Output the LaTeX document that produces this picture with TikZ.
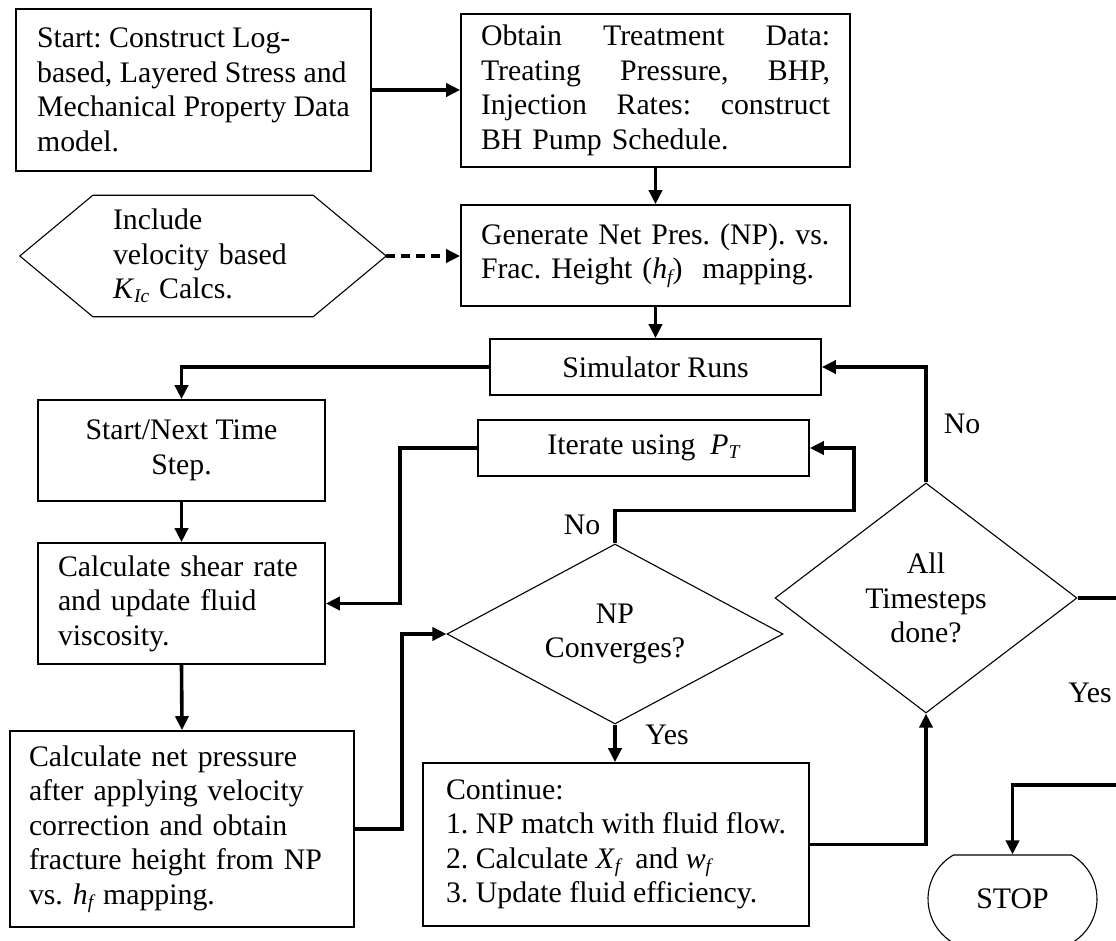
\documentclass[tikz,border=0pt]{standalone}
\usepackage{fontspec}
\setmainfont{Liberation Serif}
\usetikzlibrary{shapes.geometric,shapes.misc,arrows.meta}
\frenchspacing
\newcommand{\subit}[1]{\raisebox{-0.14em}{\fontsize{19.5}{19.5}\selectfont\itshape #1}}

\begin{document}
\begin{tikzpicture}[
    x=1pt, y=-1pt,
    every node/.style={font=\fontsize{29.8}{34.5}\selectfont, inner sep=0pt},
    box/.style={rectangle, draw, line width=1.6pt, align=left},
    cbox/.style={rectangle, draw, line width=1.6pt, align=center},
    decision/.style={diamond, draw, line width=1.1pt, align=center},
    arrow/.style={->, >={Triangle[length=14pt,width=13pt]}, line width=3.6pt},
    dasharrow/.style={arrow, dash pattern=on 9pt off 6pt}
]
    \useasboundingbox (0,0) rectangle (1116,941);
    \clip (0,0) rectangle (1116,941);

    \node[box, minimum width=355pt, minimum height=162pt] (start) at (193.5,90) {Start: Construct Log-\\ based, Layered Stress and\\ Mechanical Property Data\\ model.};
    \node[box, minimum width=389pt, minimum height=153pt, text width=349pt] (obtain) at (655.5,90.5) {Obtain\hfill Treatment\hfill Data:\\ Treating\hfill Pressure,\hfill BHP,\\ Injection\hfill Rates:\hfill construct\\ BH Pump Schedule.};
    \node[box, minimum width=389pt, minimum height=101pt, text width=349pt] (gen) at (655.5,255.5) {Generate Net Pres. (NP). vs.\\ Frac. Height (\textit{h}\subit{f})~\ mapping.};
    \node[minimum width=366pt, minimum height=121pt, text width=180pt, align=left] (kic) at (203,256) {Include\\ velocity based\\ \textit{K}\subit{Ic} Calcs.};
    \draw[line width=1.1pt] (kic.west) -- ([xshift=73pt]kic.north west) -- ([xshift=-73pt]kic.north east) -- (kic.east) -- ([xshift=-73pt]kic.south east) -- ([xshift=73pt]kic.south west) -- cycle;
    \node[cbox, minimum width=331pt, minimum height=56pt] (sim) at (655.5,367) {Simulator Runs};
    \node[cbox, minimum width=287pt, minimum height=101pt] (step) at (181.5,450.5) {Start/Next Time\\ Step.};
    \node[box, minimum width=287pt, minimum height=121pt, text width=247pt] (shear) at (181.5,603.5) {Calculate shear rate\\ and update fluid\\ viscosity.};
    \node[box, minimum width=344pt, minimum height=196pt, text width=306pt] (netp) at (182,829) {Calculate net pressure\\ after applying velocity\\ correction and obtain\\ fracture height from NP\\ vs. \textit{h}\subit{f} mapping.};
    \node[cbox, minimum width=331pt, minimum height=56pt] (iter) at (643.5,448) {Iterate using~\ \textit{P}\subit{T}};
    \node[decision, minimum width=336pt, minimum height=180pt, aspect=1.87] (npc) at (615,634) {NP\\ Converges?};
    \node[box, minimum width=386pt, minimum height=163pt] (cont) at (616,844.5) {Continue:\\ 1. NP match with fluid flow.\\ 2. Calculate \textit{X}\subit{f}~\ and \textit{w}\subit{f}\\ 3. Update fluid efficiency.};
    \node[decision, minimum width=302pt, minimum height=230pt, aspect=1.31] (done) at (926,598) {All\\ Timesteps\\ done?};
    \node[rounded rectangle, rounded rectangle arc length=120, draw, line width=1.1pt, minimum width=169pt, minimum height=88pt] (stop) at (1012.5,899) {STOP};

    \node (no1) at (582,525) {No};
    \node (yes1) at (667,735) {Yes};
    \node (no2) at (962,424) {No};
    \node (yes2) at (1090,693) {Yes};

    \draw[arrow] (start.east) -- (start.east -| obtain.west);
    \draw[arrow] (obtain.south) -- (gen.north);
    \draw[arrow] (gen.south) -- (sim.north);
    \draw[dasharrow] (kic.east) -- (kic.east -| gen.west);
    \draw[arrow] (sim.west) -| (step.north);
    \draw[arrow] (step.south) -- (shear.north);
    \draw[arrow] (shear.south) -- (netp.north);
    \draw[arrow] (iter.west) -- ++(-77,0) |- (shear.east);
    \draw[arrow] (netp.east) -- ++(47,0) |- (npc.west);
    \draw[arrow] (npc.north) -- ++(0,-33) -- ++(239,0) |- (iter.east);
    \draw[arrow] (npc.south) -- (npc.south |- cont.north);
    \draw[arrow] (cont.east) -| (done.south);
    \draw[arrow] (done.north) |- (sim.east);
    \draw[arrow] (done.east) -- ++(60,0) -- ++(0,187) -| (stop.north);
\end{tikzpicture}
\end{document}
